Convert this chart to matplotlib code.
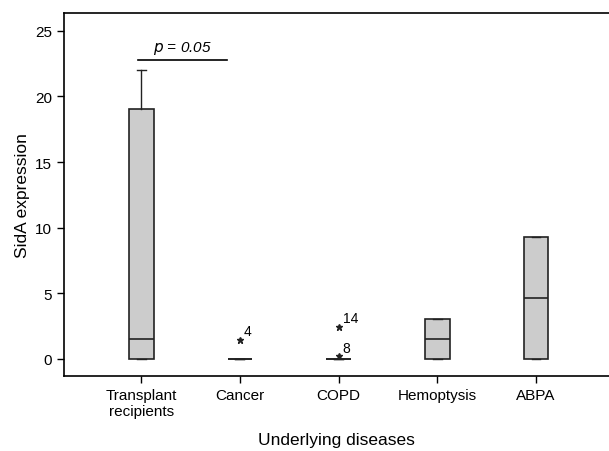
import matplotlib.pyplot as plt

plt.rcParams['font.family'] = ['Liberation Sans', 'DejaVu Sans']

# data
groups = ["Transplant\nrecipients", "Cancer", "COPD", "Hemoptysis", "ABPA"]
q1 = [0, 0, 0, 0, 0]
median = [1.5, 0, 0, 1.52, 4.63]
q3 = [19.0, 0, 0, 3.05, 9.25]
whisker_hi = [22.0, 0, 0, 3.05, 9.25]
outliers = [[], [1.47], [2.44, 0.2], [], []]
outlier_ids = [[], ["4"], ["14", "8"], [], []]

fig = plt.figure(figsize=(6.09, 4.52), dpi=100)
ax = fig.add_axes([0.105, 0.166, 0.895, 0.803])

stats = []
for i in range(len(groups)):
    stats.append({"med": median[i], "q1": q1[i], "q3": q3[i],
                  "whislo": q1[i], "whishi": whisker_hi[i],
                  "fliers": outliers[i], "label": groups[i]})

pos = list(range(1, len(groups) + 1))
bp = ax.bxp(stats, positions=pos, widths=0.25, patch_artist=True,
            showfliers=True, capwidths=0.09,
            boxprops=dict(facecolor="#cccccc", edgecolor="#222222", linewidth=1.2),
            medianprops=dict(color="#222222", linewidth=1.2),
            whiskerprops=dict(color="#222222", linewidth=1.0),
            capprops=dict(color="#222222", linewidth=1.0),
            flierprops=dict(marker="*", markersize=4.5, markerfacecolor="#222222",
                            markeredgecolor="#222222", linestyle="none"))

for i in range(len(groups)):
    for v, t in zip(outliers[i], outlier_ids[i]):
        ax.annotate(t, (pos[i], v), xytext=(3, 1), textcoords="offset points",
                    fontsize=10, ha="left", va="bottom")

# significance bar
ax.plot([0.97, 1.87], [22.75, 22.75], color="black", linewidth=1.2)
ax.text(1.42, 23.05, "$\\it{p}$ = 0.05", fontsize=11, style="italic",
        ha="center", va="bottom")

ax.set_xlim(0.217, 5.74)
ax.set_ylim(-1.3, 26.35)
ax.set_yticks([0, 5, 10, 15, 20, 25])
ax.spines["right"].set_visible(False)
for s in ["left", "bottom", "top"]:
    ax.spines[s].set_linewidth(1.2)
ax.tick_params(direction="out", length=5, width=1, labelsize=11)
ax.set_ylabel("SidA expression", fontsize=12.5)
ax.set_xlabel("Underlying diseases", fontsize=12.5, labelpad=10)

fig.savefig("out.png", dpi=100)
